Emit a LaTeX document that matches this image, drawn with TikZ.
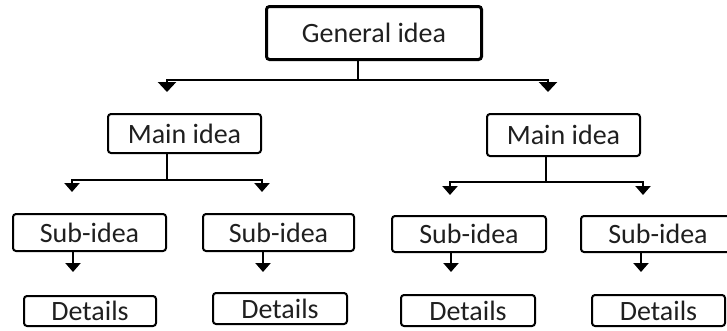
\documentclass[tikz,border=0pt]{standalone}
\usepackage{fontspec}
\setmainfont{Carlito}
\usetikzlibrary{arrows.meta}
\begin{document}
\begin{tikzpicture}[x=1pt,y=-1pt,
  box/.style={draw=black, rounded corners=3pt, line width=2pt, inner sep=0pt,
    font=\fontsize{28}{30}\selectfont, text=black!88},
  conn/.style={line width=2.5pt},
  tip/.style={conn,-{Triangle[width=15pt,length=9pt]}},
  bigtip/.style={conn,-{Triangle[width=18pt,length=10pt]}},
]
\useasboundingbox (0,0) rectangle (727,330);
\clip (0,0) rectangle (727,330);

% boxes
\node[box, line width=3pt, minimum width=215pt, minimum height=53pt] (G) at (374,33) {General idea};
\node[box, minimum width=153pt, minimum height=39pt] (M1) at (184.5,133.5) {Main idea};
\node[box, minimum width=153pt, minimum height=42pt] (M2) at (563.5,135) {Main idea};
\node[box, minimum width=153pt, minimum height=37pt] (S1) at (89.5,232.5) {Sub-idea};
\node[box, minimum width=151pt, minimum height=37pt] (S2) at (278.5,232.5) {Sub-idea};
\node[box, minimum width=154pt, minimum height=36pt] (S3) at (469,234) {Sub-idea};
\node[box, minimum width=154pt, minimum height=36pt] (S4) at (658,234) {Sub-idea};
\node[box, minimum width=132pt, minimum height=30pt] (D1) at (90,311) {Details};
\node[box, minimum width=134pt, minimum height=31pt] (D2) at (280,308.5) {Details};
\node[box, minimum width=134pt, minimum height=31pt] (D3) at (468,310.5) {Details};
\node[box, minimum width=133pt, minimum height=31pt] (D4) at (658.5,310.5) {Details};

% junctions and arrow ends
\coordinate (gj) at (358,80);
\coordinate (g1) at (167,92);
\coordinate (g2) at (548,92);
\coordinate (m1j) at (167,180);
\coordinate (m1a) at (72,192);
\coordinate (m1b) at (262,192);
\coordinate (m2j) at (546,182);
\coordinate (m2a) at (450,195);
\coordinate (m2b) at (643,195);
\coordinate (s1) at (73,272);
\coordinate (s2) at (263,272);
\coordinate (s3) at (451,272);
\coordinate (s4) at (641,272);

% general idea branches
\draw[conn] (G.south -| gj) -- (gj);
\draw[bigtip] (gj) -| (g1);
\draw[bigtip] (gj) -| (g2);

% main idea branches
\draw[conn] (M1.south -| m1j) -- (m1j);
\draw[tip] (m1j) -| (m1a);
\draw[tip] (m1j) -| (m1b);
\draw[conn] (M2.south -| m2j) -- (m2j);
\draw[tip] (m2j) -| (m2a);
\draw[tip] (m2j) -| (m2b);

% sub-idea arrows
\draw[tip] (S1.south -| s1) -- (s1);
\draw[tip] (S2.south -| s2) -- (s2);
\draw[tip] (S3.south -| s3) -- (s3);
\draw[tip] (S4.south -| s4) -- (s4);
\end{tikzpicture}
\end{document}
